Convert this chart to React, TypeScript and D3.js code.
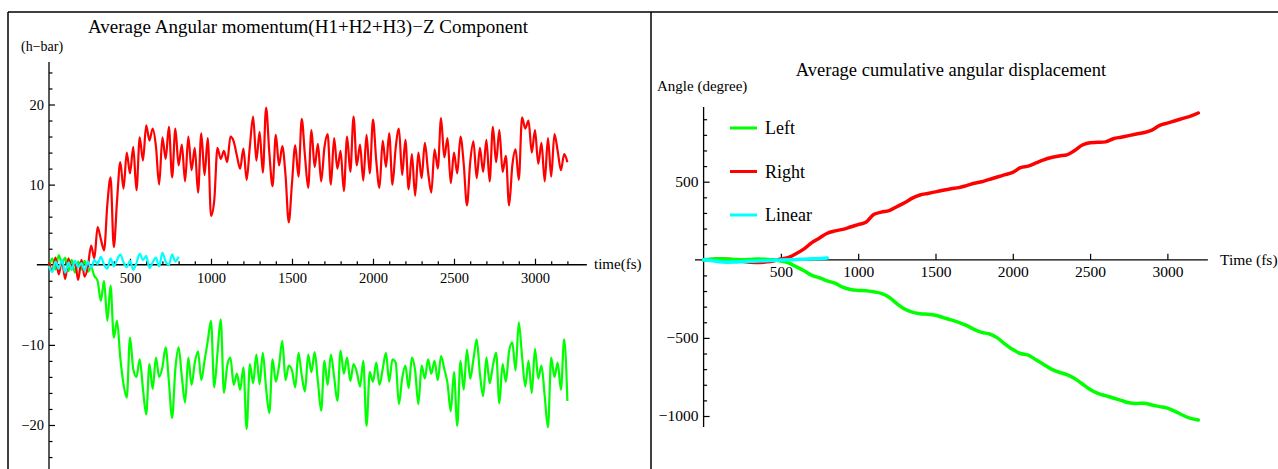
import React, { useEffect, useRef } from 'react';
import * as d3 from 'd3';

// left panel: angular momentum (h-bar), sampled every 20 fs
const momStep = 20;
const momRight = [
  0.3, -0.8, 0.9, -1.2, 0.5, -1.8, 0.8, -0.6, 0.4, -1.9, 0.6, -1.5, -0.2, 2.4, 0.8, 4.7, 3.2, 1.8, 7.5, 10.9,
  2.2, 8.0, 12.8, 9.5, 14.0, 11.4, 14.7, 9.3, 15.9, 13.0, 17.4, 15.5, 17.0, 14.8, 10.0, 15.9, 13.2, 17.2, 10.9, 17.0,
  12.4, 15.0, 10.4, 16.0, 11.8, 14.6, 9.0, 16.4, 11.2, 15.8, 6.1, 8.0, 14.6, 13.2, 14.2, 12.8, 16.0, 15.4, 13.6, 12.0,
  14.5, 10.6, 14.8, 18.5, 13.0, 16.6, 11.5, 19.6, 14.0, 9.8, 16.2, 12.4, 14.8, 11.2, 5.3, 10.2, 14.9, 11.0, 18.2, 13.6,
  9.6, 16.8, 12.2, 15.1, 10.4, 14.6, 16.3, 10.0, 15.8, 12.0, 14.2, 9.2, 16.0, 11.6, 18.5, 12.4, 15.0, 10.5, 16.2, 11.4,
  18.1, 13.0, 9.6, 15.5, 12.2, 16.4, 10.0, 14.6, 17.0, 11.2, 15.6, 9.4, 13.8, 8.6, 14.0, 10.8, 15.2, 11.6, 9.0, 14.4,
  12.0, 18.3, 13.4, 15.8, 10.2, 14.0, 11.4, 16.0, 12.6, 7.4, 12.8, 15.4, 10.8, 14.6, 11.6, 15.6, 10.4, 17.2, 12.8, 16.8,
  11.6, 13.6, 7.4, 12.4, 14.4, 10.6, 18.4, 17.0, 18.0, 14.0, 16.8, 12.6, 15.2, 10.4, 15.8, 11.0, 16.3, 14.2, 11.8, 13.8,
  12.8
];
const momLeft = [
  -0.4, 0.8, -0.6, 1.2, 0.2, 0.9, -0.8, 0.6, -1.0, 0.4, -0.6, 0.5, -0.9, -0.3, -1.4, -2.0, -4.5, -2.0, -7.0, -2.6,
  -9.1, -7.0, -11.6, -14.9, -16.6, -9.1, -13.0, -14.0, -11.8, -15.5, -18.7, -12.4, -15.5, -11.6, -14.0, -12.8, -10.3, -14.6, -19.1, -13.0,
  -10.3, -14.0, -17.2, -11.6, -15.0, -12.2, -10.8, -14.4, -12.0, -9.5, -7.0, -15.3, -11.0, -6.8, -16.0, -12.6, -11.6, -15.0, -13.6, -15.6,
  -12.8, -20.5, -12.4, -14.8, -11.2, -14.9, -11.0, -15.4, -18.5, -11.8, -14.6, -12.6, -9.5, -14.4, -12.6, -13.2, -15.3, -11.0, -13.8, -15.8,
  -11.2, -13.4, -10.9, -14.6, -18.2, -12.0, -15.0, -11.2, -14.0, -17.0, -10.7, -13.6, -11.6, -14.5, -12.4, -13.4, -15.2, -12.0, -20.1, -13.4,
  -14.6, -12.2, -15.0, -13.0, -11.0, -14.6, -11.8, -12.2, -17.4, -14.2, -12.6, -15.4, -11.6, -13.2, -17.4, -12.6, -14.2, -11.8, -13.6, -12.0,
  -14.4, -11.4, -13.0, -14.8, -18.3, -13.4, -20.1, -12.0, -15.6, -10.6, -14.2, -11.8, -9.3, -13.6, -16.4, -11.6, -14.8, -12.6, -11.0, -17.3,
  -12.4, -14.6, -10.8, -9.7, -13.2, -7.2, -11.4, -15.2, -12.0, -16.0, -10.5, -14.2, -12.6, -16.4, -20.3, -11.6, -14.0, -12.2, -15.6, -9.3,
  -17.0
];
const momLinear = [
  -0.2, -0.9, 0.4, -0.5, 0.6, -1.0, 0.3, -0.6, 0.5, -0.3, 0.2, -0.7, 0.4, -0.4, 0.6, 0.1, 1.0, 0.0, -0.5, 0.8,
  -0.2, 0.6, 1.3, 0.3, -0.3, 0.5, -0.6, 0.2, 1.4, 0.6, 1.1, -0.4, 0.3, 0.9, -0.2, 1.5, 0.4, 0.0, 1.3, 0.4,
  1.0
];

// right panel: cumulative angular displacement (degree), sampled every 50 fs
const dispStep = 50;
const dispRight = [
  0, 2, 5, 3, -2, -10, -15, -18, -14, -8, 5, 15, 40, 70, 110, 140, 170, 185, 195, 210,
  225, 240, 290, 305, 315, 340, 365, 395, 415, 425, 435, 445, 455, 462, 475, 490, 500, 515, 530, 545,
  560, 590, 600, 620, 640, 655, 665, 672, 700, 735, 750, 752, 755, 775, 785, 795, 805, 815, 830, 860,
  875, 890, 905, 920, 940
];
const dispLeft = [
  0, 3, 6, 4, 2, 0, 2, 5, 3, 0, -8, -20, -45, -70, -100, -115, -135, -150, -175, -190,
  -196, -198, -205, -215, -240, -280, -315, -335, -345, -348, -355, -370, -385, -400, -420, -445, -465, -475, -500, -540,
  -575, -600, -610, -640, -670, -700, -720, -735, -760, -795, -830, -855, -870, -885, -900, -915, -920, -918, -930, -940,
  -950, -970, -995, -1015, -1025
];
const dispLinear = [0, -5, -12, -15, -14, -12, -10, -8, -6, -4, -2, 0, 2, 4, 6, 8, 12];

const legendLabels = ['Left', 'Right', 'Linear'];
const timeTicks = [500, 1000, 1500, 2000, 2500, 3000];
const momTicks = [-20, -10, 10, 20];
const dispTicks = [-1000, -500, 500];

const RED = '#ff0000';
const GREEN = '#00ff00';
const CYAN = '#00ffff';
const FONT = '"Liberation Serif", "Times New Roman", serif';

export default function App() {
  const ref = useRef<SVGSVGElement>(null);

  useEffect(() => {
    const svg = d3.select(ref.current);
    svg.selectAll('*').remove();
    const fmt = d3.format('d');

    // frame
    const frame = svg.append('g').attr('stroke', '#000').attr('stroke-width', 1.5);
    frame.append('line').attr('x1', 8).attr('y1', 12).attr('x2', 1278).attr('y2', 12);
    frame.append('line').attr('x1', 8).attr('y1', 12).attr('x2', 8).attr('y2', 469);
    frame.append('line').attr('x1', 651).attr('y1', 12).attr('x2', 651).attr('y2', 469);

    const styleAxis = (g: any, size: number) => {
      g.select('.domain').remove();
      g.selectAll('line').attr('stroke', '#000').attr('stroke-width', 1.2);
      g.selectAll('text').attr('font-family', FONT).attr('font-size', size).attr('fill', '#000');
    };

    // ---------- left panel ----------
    const x1 = d3.scaleLinear().domain([0, 3200]).range([49, 567.4]);
    const y1 = d3.scaleLinear().domain([-20, 20]).range([425, 104.5]);
    const left = svg.append('g');

    left.append('line')
      .attr('x1', x1(-75)).attr('x2', x1(3320))
      .attr('y1', y1(0)).attr('y2', y1(0))
      .attr('stroke', '#000').attr('stroke-width', 1.3);
    left.append('line')
      .attr('x1', x1(0)).attr('x2', x1(0))
      .attr('y1', y1(25.3)).attr('y2', 469)
      .attr('stroke', '#000').attr('stroke-width', 1.3);

    const minorT1 = d3.range(100, 3300, 100).filter(v => v % 500 !== 0);
    left.append('g').attr('transform', `translate(0,${y1(0)})`)
      .call(d3.axisBottom(x1).tickValues(minorT1).tickFormat(() => '').tickSizeInner(-3.5).tickSizeOuter(0))
      .call(g => styleAxis(g, 14.5));
    left.append('g').attr('transform', `translate(0,${y1(0)})`)
      .call(d3.axisBottom(x1).tickValues(timeTicks).tickFormat(fmt).tickSizeInner(-6).tickSizeOuter(0).tickPadding(8))
      .call(g => styleAxis(g, 14.5));

    const minorY1 = d3.range(-26, 26, 2).filter(v => v % 10 !== 0);
    left.append('g').attr('transform', `translate(${x1(0)},0)`)
      .call(d3.axisLeft(y1).tickValues(minorY1).tickFormat(() => '').tickSizeInner(-3.5).tickSizeOuter(0))
      .call(g => styleAxis(g, 14.5));
    left.append('g').attr('transform', `translate(${x1(0)},0)`)
      .call(d3.axisLeft(y1).tickValues(momTicks).tickFormat(fmt).tickSizeInner(-6).tickSizeOuter(0).tickPadding(5))
      .call(g => styleAxis(g, 14.5));

    const line1 = d3.line<number>()
      .x((d, i) => x1(i * momStep))
      .y(d => y1(d))
      .curve(d3.curveMonotoneX);
    [[momLeft, GREEN], [momRight, RED], [momLinear, CYAN]].forEach(([data, color]) => {
      left.append('path')
        .attr('d', line1(data as number[]))
        .attr('fill', 'none')
        .attr('stroke', color as string)
        .attr('stroke-width', 2.2)
        .attr('stroke-linejoin', 'round');
    });

    left.append('text').attr('x', 88).attr('y', 33)
      .attr('font-family', FONT).attr('font-size', 18.5)
      .attr('textLength', 440).attr('lengthAdjust', 'spacingAndGlyphs')
      .text('Average Angular momentum(H1+H2+H3)\u2212Z Component');
    left.append('text').attr('x', 21).attr('y', 51)
      .attr('font-family', FONT).attr('font-size', 14)
      .text('(h\u2212bar)');
    left.append('text').attr('x', 594).attr('y', 269)
      .attr('font-family', FONT).attr('font-size', 15)
      .text('time(fs)');

    // ---------- right panel ----------
    const x2 = d3.scaleLinear().domain([0, 3200]).range([703.6, 1198.3]);
    const y2 = d3.scaleLinear().domain([-1000, 500]).range([416, 181.7]);
    const right = svg.append('g');

    right.append('line')
      .attr('x1', x2(-56)).attr('x2', x2(3262))
      .attr('y1', y2(0)).attr('y2', y2(0))
      .attr('stroke', '#000').attr('stroke-width', 1.3);
    right.append('line')
      .attr('x1', x2(0)).attr('x2', x2(0))
      .attr('y1', y2(978)).attr('y2', y2(-1070))
      .attr('stroke', '#000').attr('stroke-width', 1.3);

    right.append('g').attr('transform', `translate(0,${y2(0)})`)
      .call(d3.axisBottom(x2).tickValues(timeTicks).tickFormat(fmt).tickSizeInner(-6).tickSizeOuter(0).tickPadding(6))
      .call(g => styleAxis(g, 15.5));

    const minorY2 = d3.range(-1000, 1000, 100).filter(v => v % 500 !== 0);
    right.append('g').attr('transform', `translate(${x2(0)},0)`)
      .call(d3.axisLeft(y2).tickValues(minorY2).tickFormat(() => '').tickSizeInner(-3.5).tickSizeOuter(0))
      .call(g => styleAxis(g, 15.5));
    right.append('g').attr('transform', `translate(${x2(0)},0)`)
      .call(d3.axisLeft(y2).tickValues(dispTicks).tickFormat(fmt).tickSizeInner(-6).tickSizeOuter(0).tickPadding(5))
      .call(g => styleAxis(g, 15.5));

    const line2 = d3.line<number>().x((d, i) => x2(i * dispStep)).y(d => y2(d)).curve(d3.curveMonotoneX);
    [[dispRight, RED], [dispLeft, GREEN], [dispLinear, CYAN]].forEach(([data, color]) => {
      right.append('path')
        .attr('d', line2(data as number[]))
        .attr('fill', 'none')
        .attr('stroke', color as string)
        .attr('stroke-width', 3.5)
        .attr('stroke-linejoin', 'round')
        .attr('stroke-linecap', 'round');
    });

    right.append('text').attr('x', 951).attr('y', 76)
      .attr('text-anchor', 'middle')
      .attr('font-family', FONT).attr('font-size', 18.5)
      .text('Average cumulative angular displacement');
    right.append('text').attr('x', 657).attr('y', 91)
      .attr('font-family', FONT).attr('font-size', 15)
      .text('Angle (degree)');
    right.append('text').attr('x', 1220).attr('y', 265)
      .attr('font-family', FONT).attr('font-size', 15.5)
      .text('Time (fs)');

    const legendColors = [GREEN, RED, CYAN];
    const legendY = d3.scalePoint<string>().domain(legendLabels).range([128, 215]);
    const legend = right.append('g');
    legendLabels.forEach((label, i) => {
      const y = legendY(label) as number;
      legend.append('line')
        .attr('x1', 730).attr('x2', 757).attr('y1', y).attr('y2', y)
        .attr('stroke', legendColors[i]).attr('stroke-width', 3);
      legend.append('text').attr('x', 765).attr('y', y + 6)
        .attr('font-family', FONT).attr('font-size', 18)
        .text(label);
    });
  }, []);

  return (
    <svg
      ref={ref}
      width={1278}
      height={469}
      style={{ position: 'absolute', left: 0, top: 0, background: '#fff' }}
    />
  );
}
